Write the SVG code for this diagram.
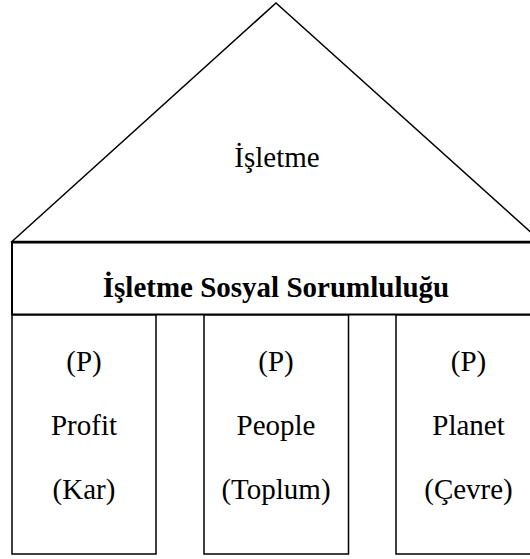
<svg xmlns="http://www.w3.org/2000/svg" width="530" height="559" viewBox="0 0 530 559">
<style>
.ln{fill:#fff;stroke:#000;stroke-width:1.5}
.t{font-family:"Liberation Serif","Times New Roman",serif;font-size:29px;fill:#000;text-anchor:middle}
.b{font-weight:bold}
</style>
<rect width="530" height="559" fill="#fff"/>
<g id="roof">
<polygon class="ln" points="12,241.5 276,3 541,241.5"/>
<text class="t" x="277" y="167">İşletme</text>
</g>
<g id="band">
<rect class="ln" x="12" y="242.5" width="529" height="72" style="stroke-width:2"/>
<text class="t b" x="276" y="296.5">İşletme Sosyal Sorumluluğu</text>
</g>
<g id="pillar-profit">
<rect class="ln" x="12" y="315" width="144" height="239"/>
<text class="t" x="84" y="371">(P)</text>
<text class="t" x="84" y="435">Profit</text>
<text class="t" x="84" y="499">(Kar)</text>
</g>
<g id="pillar-people">
<rect class="ln" x="204" y="315" width="144.5" height="239"/>
<text class="t" x="276" y="371">(P)</text>
<text class="t" x="276" y="435">People</text>
<text class="t" x="276" y="499">(Toplum)</text>
</g>
<g id="pillar-planet">
<rect class="ln" x="396" y="315" width="145" height="239"/>
<text class="t" x="468.5" y="371">(P)</text>
<text class="t" x="468.5" y="435">Planet</text>
<text class="t" x="468.5" y="499">(Çevre)</text>
</g>
<g id="connectors"></g>
</svg>
